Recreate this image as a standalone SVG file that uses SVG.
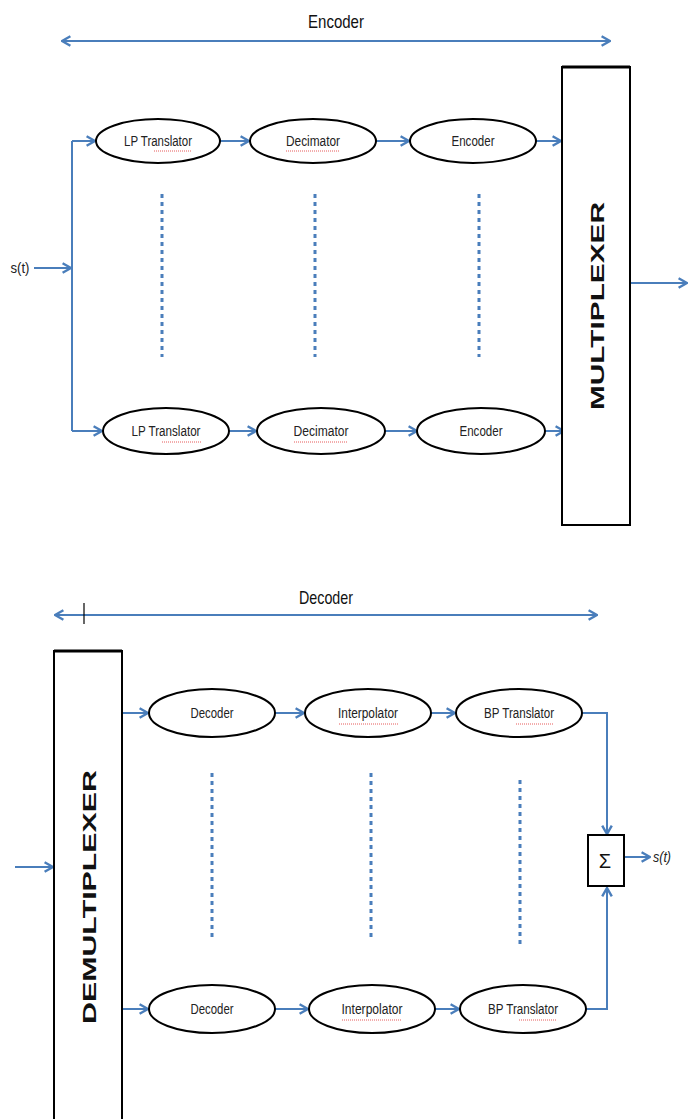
<svg xmlns="http://www.w3.org/2000/svg" width="688" height="1119" viewBox="0 0 688 1119">
  <defs>
    <style>
      .wire { fill: none; stroke: #4a7ebb; stroke-width: 2; }
      .dots { fill: none; stroke: #4a7ebb; stroke-width: 3; stroke-dasharray: 4 4; }
      .blob { fill: #ffffff; stroke: #000000; stroke-width: 2; }
      .box { fill: #ffffff; stroke: #000000; stroke-width: 2; }
      .lbl { font-family: "Liberation Sans", sans-serif; font-size: 14px; fill: #222222; text-anchor: middle; }
      .title { font-family: "Liberation Sans", sans-serif; font-size: 19px; fill: #111111; text-anchor: middle; }
      .mux { font-family: "Liberation Sans", "DejaVu Sans", sans-serif; font-weight: bold; font-size: 18px; fill: #111111; text-anchor: middle; }
      .squig { fill: none; stroke: #e03030; stroke-width: 0.8; stroke-dasharray: 1 1; }
    </style>
    <marker id="head" viewBox="0 0 10 10" refX="9" refY="5" markerWidth="6" markerHeight="6" orient="auto-start-reverse" markerUnits="strokeWidth">
      <polyline points="2,1 9,5 2,9" fill="none" stroke="#4a7ebb" stroke-width="2"/>
    </marker>
  </defs>

  <!-- section spans -->
  <g id="encoder-span">
    <line class="wire" x1="62" y1="41" x2="610" y2="41" marker-start="url(#head)" marker-end="url(#head)"/>
    <text class="title" x="336" y="28" textLength="56" lengthAdjust="spacingAndGlyphs">Encoder</text>
  </g>
  <g id="decoder-span">
    <line class="wire" x1="55" y1="615" x2="597" y2="615" marker-start="url(#head)" marker-end="url(#head)"/>
    <line x1="84" y1="603" x2="84" y2="624" stroke="#000" stroke-width="1.2"/>
    <text class="title" x="326" y="604" textLength="54" lengthAdjust="spacingAndGlyphs">Decoder</text>
  </g>

  <!-- connectors -->
  <g id="connectors">
    <!-- encoder side -->
    <line class="wire" x1="34" y1="268" x2="71" y2="268" marker-end="url(#head)"/>
    <polyline class="wire" points="72,141 72,431"/>
    <line class="wire" x1="72" y1="141" x2="95" y2="141" marker-end="url(#head)"/>
    <line class="wire" x1="220" y1="141" x2="249" y2="141" marker-end="url(#head)"/>
    <line class="wire" x1="376" y1="141" x2="409" y2="141" marker-end="url(#head)"/>
    <line class="wire" x1="536" y1="141" x2="561" y2="141" marker-end="url(#head)"/>
    <line class="wire" x1="72" y1="431" x2="102" y2="431" marker-end="url(#head)"/>
    <line class="wire" x1="229" y1="431" x2="256" y2="431" marker-end="url(#head)"/>
    <line class="wire" x1="385" y1="431" x2="417" y2="431" marker-end="url(#head)"/>
    <line class="wire" x1="545" y1="431" x2="564" y2="431" marker-end="url(#head)"/>
    <line class="wire" x1="630" y1="283" x2="687" y2="283" marker-end="url(#head)"/>
    <line class="dots" x1="162" y1="194" x2="162" y2="357"/>
    <line class="dots" x1="315" y1="194" x2="315" y2="357"/>
    <line class="dots" x1="479" y1="194" x2="479" y2="357"/>

    <!-- decoder side -->
    <line class="wire" x1="15" y1="867" x2="53" y2="867" marker-end="url(#head)"/>
    <line class="wire" x1="122" y1="713" x2="148" y2="713" marker-end="url(#head)"/>
    <line class="wire" x1="275" y1="713" x2="304" y2="713" marker-end="url(#head)"/>
    <line class="wire" x1="431" y1="713" x2="455" y2="713" marker-end="url(#head)"/>
    <polyline class="wire" points="582,713 607,713 607,834" marker-end="url(#head)"/>
    <line class="wire" x1="122" y1="1009" x2="148" y2="1009" marker-end="url(#head)"/>
    <line class="wire" x1="275" y1="1009" x2="308" y2="1009" marker-end="url(#head)"/>
    <line class="wire" x1="435" y1="1009" x2="459" y2="1009" marker-end="url(#head)"/>
    <polyline class="wire" points="586,1009 607,1009 607,888" marker-end="url(#head)"/>
    <line class="wire" x1="624" y1="857" x2="650" y2="857" marker-end="url(#head)"/>
    <line class="dots" x1="212" y1="773" x2="212" y2="938"/>
    <line class="dots" x1="371" y1="773" x2="371" y2="938"/>
    <line class="dots" x1="520" y1="780" x2="520" y2="945"/>
  </g>

  <!-- input / output labels -->
  <g id="input-label">
    <text class="lbl" x="20" y="273" textLength="19" lengthAdjust="spacingAndGlyphs">s(t)</text>
  </g>
  <g id="output-label">
    <text class="lbl" x="662" y="862" font-style="italic" textLength="18" lengthAdjust="spacingAndGlyphs">s(t)</text>
  </g>

  <!-- encoder chain, first branch -->
  <g id="lp1">
    <ellipse class="blob" cx="158" cy="141" rx="62" ry="22"/>
    <text class="lbl" x="158" y="146" textLength="68" lengthAdjust="spacingAndGlyphs">LP Translator</text>
    <path class="squig" d="M154,151 H192"/>
  </g>
  <g id="dec1">
    <ellipse class="blob" cx="313" cy="141" rx="63" ry="22"/>
    <text class="lbl" x="313" y="146" textLength="54" lengthAdjust="spacingAndGlyphs">Decimator</text>
    <path class="squig" d="M286,151 H340"/>
  </g>
  <g id="enc1">
    <ellipse class="blob" cx="473" cy="141" rx="63" ry="22"/>
    <text class="lbl" x="473" y="146" textLength="43" lengthAdjust="spacingAndGlyphs">Encoder</text>
  </g>

  <!-- encoder chain, last branch -->
  <g id="lp2">
    <ellipse class="blob" cx="166" cy="431" rx="63" ry="23"/>
    <text class="lbl" x="166" y="436" textLength="69" lengthAdjust="spacingAndGlyphs">LP Translator</text>
    <path class="squig" d="M162,442 H201"/>
  </g>
  <g id="dec2">
    <ellipse class="blob" cx="321" cy="431" rx="64" ry="23"/>
    <text class="lbl" x="321" y="436" textLength="55" lengthAdjust="spacingAndGlyphs">Decimator</text>
    <path class="squig" d="M294,442 H348"/>
  </g>
  <g id="enc2">
    <ellipse class="blob" cx="481" cy="431" rx="64" ry="23"/>
    <text class="lbl" x="481" y="436" textLength="43" lengthAdjust="spacingAndGlyphs">Encoder</text>
  </g>

  <g id="multiplexer">
    <rect class="box" x="562" y="67" width="68" height="458"/>
    <line x1="562" y1="67" x2="630" y2="67" stroke="#000" stroke-width="3"/>
    <text class="mux" transform="translate(604,306) rotate(-90)" textLength="208" lengthAdjust="spacingAndGlyphs">MULTIPLEXER</text>
  </g>

  <g id="demultiplexer">
    <rect class="box" x="54" y="651" width="68" height="480"/>
    <line x1="54" y1="651" x2="122" y2="651" stroke="#000" stroke-width="3"/>
    <text class="mux" transform="translate(96,897) rotate(-90)" textLength="254" lengthAdjust="spacingAndGlyphs">DEMULTIPLEXER</text>
  </g>

  <!-- decoder chain, first branch -->
  <g id="dcd1">
    <ellipse class="blob" cx="212" cy="713" rx="63" ry="24"/>
    <text class="lbl" x="212" y="718" textLength="43" lengthAdjust="spacingAndGlyphs">Decoder</text>
  </g>
  <g id="int1">
    <ellipse class="blob" cx="368" cy="713" rx="63" ry="24"/>
    <text class="lbl" x="368" y="718" textLength="60" lengthAdjust="spacingAndGlyphs">Interpolator</text>
    <path class="squig" d="M339,724 H398"/>
  </g>
  <g id="bp1">
    <ellipse class="blob" cx="519" cy="713" rx="63" ry="24"/>
    <text class="lbl" x="519" y="718" textLength="70" lengthAdjust="spacingAndGlyphs">BP Translator</text>
    <path class="squig" d="M516,724 H553"/>
  </g>

  <!-- decoder chain, last branch -->
  <g id="dcd2">
    <ellipse class="blob" cx="212" cy="1009" rx="63" ry="24"/>
    <text class="lbl" x="212" y="1014" textLength="43" lengthAdjust="spacingAndGlyphs">Decoder</text>
  </g>
  <g id="int2">
    <ellipse class="blob" cx="372" cy="1009" rx="63" ry="24"/>
    <text class="lbl" x="372" y="1014" textLength="61" lengthAdjust="spacingAndGlyphs">Interpolator</text>
    <path class="squig" d="M342,1020 H402"/>
  </g>
  <g id="bp2">
    <ellipse class="blob" cx="523" cy="1009" rx="63" ry="24"/>
    <text class="lbl" x="523" y="1014" textLength="70" lengthAdjust="spacingAndGlyphs">BP Translator</text>
    <path class="squig" d="M519,1020 H557"/>
  </g>

  <g id="summer">
    <rect class="box" x="588" y="835" width="36" height="51"/>
    <text x="605" y="868" font-family="Liberation Sans, sans-serif" font-size="20" text-anchor="middle" fill="#111">Σ</text>
  </g>
</svg>
